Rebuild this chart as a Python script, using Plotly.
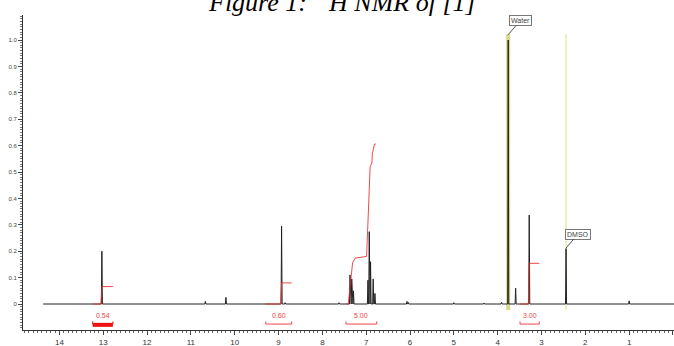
import plotly.graph_objects as go

# ---- data ----
peak_ppm = [13.03, 10.67, 10.20, 8.93, 8.85, 7.62, 7.37, 7.33, 7.29, 6.96, 6.93, 6.90, 6.84, 6.80,
            6.07, 6.04, 5.00, 4.31, 3.91, 3.76, 3.59, 3.28, 2.44, 1.00]
peak_height = [0.20, 0.010, 0.025, 0.295, 0.005, 0.005, 0.110, 0.095, 0.050, 0.090, 0.274, 0.160, 0.095, 0.040,
               0.010, 0.006, 0.005, 0.004, 0.006, 1.000, 0.060, 0.337, 0.210, 0.012]
peak_halfwidth = 0.012
spec_start, spec_end = 14.37, -0.05

integrals = {
    "0.54": {"ppm": [13.24, 13.05, 13.03, 12.78], "val": [0.0, 0.0, 0.066, 0.066], "bracket": [13.24, 12.78], "thick": True},
    "0.60": {"ppm": [9.30, 8.95, 8.93, 8.70], "val": [0.0, 0.0, 0.080, 0.080], "bracket": [9.29, 8.70], "thick": False},
    "5.00": {"ppm": [7.46, 7.41, 7.31, 7.25, 6.99, 6.93, 6.91, 6.87, 6.86, 6.81, 6.78],
             "val": [0.0, 0.0, 0.156, 0.174, 0.180, 0.500, 0.520, 0.534, 0.570, 0.606, 0.606],
             "bracket": [7.46, 6.76], "thick": False},
    "3.00": {"ppm": [3.49, 3.30, 3.28, 3.05], "val": [0.0, 0.0, 0.154, 0.154], "bracket": [3.49, 3.05], "thick": False},
}

solvent_ppm = [3.76, 2.44]
solvent_label = ["Water", "DMSO"]
solvent_label_y = [1.02, 0.212]

y_ticks = [0, 0.1, 0.2, 0.3, 0.4, 0.5, 0.6, 0.7, 0.8, 0.9, 1.0]
y_ticktext = ["0", "0.1", "0.2", "0.3", "0.4", "0.5", "0.6", "0.7", "0.8", "0.9", "1.0"]
x_ticks = list(range(0, 15))

# ---- build spectrum polyline from peak list ----
pairs = sorted(zip(peak_ppm, peak_height), key=lambda t: -t[0])
sx, sy = [spec_start], [0.0]
for p, h in pairs:
    sx += [p + peak_halfwidth, p, p - peak_halfwidth]
    sy += [0.0, h, 0.0]
sx.append(spec_end)
sy.append(0.0)

fig = go.Figure()

# solvent highlight bands
for i, p in enumerate(solvent_ppm):
    fig.add_trace(go.Scatter(x=[p, p], y=[-0.023, 1.023], mode="lines",
                             line=dict(color="#d8d890" if i == 0 else "#efefc6", width=4 if i == 0 else 2),
                             hoverinfo="skip", showlegend=False))

fig.add_trace(go.Scatter(x=sx, y=sy, mode="lines", line=dict(color="#222222", width=1),
                         hoverinfo="skip", showlegend=False))

RED = "rgba(240,40,40,0.85)"
for label, d in integrals.items():
    fig.add_trace(go.Scatter(x=d["ppm"], y=d["val"], mode="lines", line=dict(color=RED, width=1),
                             hoverinfo="skip", showlegend=False))
    b0, b1 = d["bracket"]
    if d["thick"]:
        fig.add_trace(go.Scatter(x=[b0, b0, b1, b1], y=[-0.066, -0.076, -0.076, -0.066], mode="lines",
                                 line=dict(color="#ee1111", width=1), hoverinfo="skip", showlegend=False))
        fig.add_trace(go.Scatter(x=[b0, b1], y=[-0.079, -0.079], mode="lines",
                                 line=dict(color="#ee1111", width=4), hoverinfo="skip", showlegend=False))
    else:
        fig.add_trace(go.Scatter(x=[b0, b0, b1, b1], y=[-0.066, -0.076, -0.076, -0.066], mode="lines",
                                 line=dict(color=RED, width=1), hoverinfo="skip", showlegend=False))
    fig.add_annotation(x=(b0 + b1) / 2, y=-0.042, text=label, showarrow=False,
                       font=dict(family="Liberation Sans", size=7, color="#f04545"))

for p, lab, yy in zip(solvent_ppm, solvent_label, solvent_label_y):
    fig.add_annotation(x=p, y=yy, text=lab, showarrow=True, arrowhead=0, arrowwidth=1,
                       arrowcolor="#555555", ax=12, ay=-14, bgcolor="white", bordercolor="#777777",
                       borderwidth=1, borderpad=1, font=dict(family="Liberation Sans", size=7, color="#444444"))

fig.add_annotation(xref="paper", yref="paper", x=0.49, y=1.0, yanchor="bottom", yshift=-4,
                   text="<i>Figure 1:  <sup>1</sup>H NMR of [1]</i>", showarrow=False,
                   font=dict(family="Liberation Serif", size=26, color="black"))

fig.add_annotation(xref="paper", yref="paper", x=0.658, y=0, yanchor="top", yshift=-14,
                   text="Chemical Shift (ppm)", showarrow=False,
                   font=dict(family="Liberation Sans", size=7, color="#888888"))

fig.update_layout(
    width=674, height=346,
    margin=dict(l=23, r=0, t=15, b=16),
    paper_bgcolor="white", plot_bgcolor="white",
    xaxis=dict(range=[14.83, -0.023], tickvals=x_ticks, ticktext=[str(v) for v in x_ticks],
               showgrid=False, zeroline=False, showline=True, linecolor="#333333", linewidth=1,
               ticks="outside", ticklen=4, tickcolor="#444444",
               minor=dict(dtick=0.1, tick0=0, ticks="outside", ticklen=2, tickcolor="#666666"),
               tickfont=dict(family="Liberation Sans", size=8, color="#333333")),
    yaxis=dict(range=[-0.0985, 1.0947], tickvals=y_ticks, ticktext=y_ticktext,
               showgrid=False, zeroline=False, showline=True, linecolor="#333333", linewidth=1,
               ticks="outside", ticklen=4, tickcolor="#444444",
               minor=dict(dtick=0.01, tick0=0, ticks="outside", ticklen=2, tickcolor="#777777"),
               tickfont=dict(family="Liberation Sans", size=6, color="#444444")),
)

fig.write_html("out.html", config={"displayModeBar": False},
               post_script="document.body.style.margin='0';")
